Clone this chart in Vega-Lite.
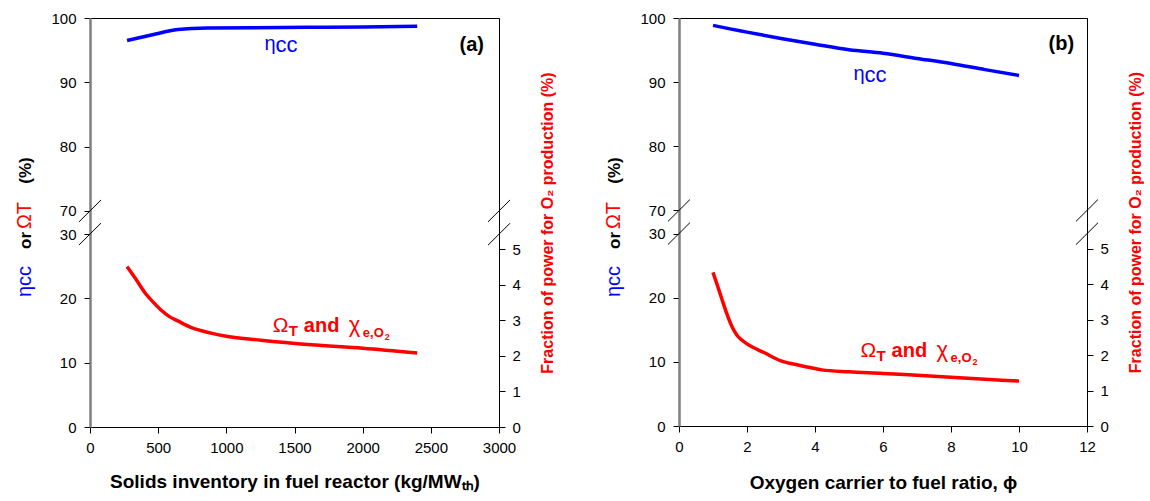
{
  "$schema": "https://vega.github.io/schema/vega-lite/v6.json",
  "padding": {"left": 13, "top": 10, "right": 0, "bottom": 0},
  "background": "white",
  "spacing": 46,
  "datasets": {
    "one": [{}],
    "a_eta": [
      {"x": 272, "y": 96.5}, {"x": 450, "y": 97.35}, {"x": 644, "y": 98.2}, {"x": 864, "y": 98.45},
      {"x": 1200, "y": 98.5}, {"x": 1600, "y": 98.55}, {"x": 2000, "y": 98.6}, {"x": 2400, "y": 98.7}
    ],
    "a_omega": [
      {"x": 272, "y": 24.95}, {"x": 330, "y": 23.2}, {"x": 399, "y": 21.0}, {"x": 460, "y": 19.5},
      {"x": 521, "y": 18.2}, {"x": 580, "y": 17.2}, {"x": 644, "y": 16.5}, {"x": 750, "y": 15.4},
      {"x": 888, "y": 14.6}, {"x": 1000, "y": 14.1}, {"x": 1255, "y": 13.5}, {"x": 1622, "y": 12.8},
      {"x": 2000, "y": 12.25}, {"x": 2400, "y": 11.5}
    ],
    "b_eta": [
      {"x": 1, "y": 98.85}, {"x": 1.5, "y": 98.3}, {"x": 2, "y": 97.8}, {"x": 3, "y": 96.8},
      {"x": 4, "y": 95.9}, {"x": 5, "y": 95.05}, {"x": 6, "y": 94.5}, {"x": 7, "y": 93.7},
      {"x": 8, "y": 92.9}, {"x": 9, "y": 91.95}, {"x": 10, "y": 91.05}
    ],
    "b_omega": [
      {"x": 1, "y": 23.95}, {"x": 1.13, "y": 21.9}, {"x": 1.26, "y": 19.8}, {"x": 1.4, "y": 17.6},
      {"x": 1.55, "y": 15.6}, {"x": 1.7, "y": 14.2}, {"x": 1.85, "y": 13.4}, {"x": 2, "y": 12.8},
      {"x": 2.5, "y": 11.45}, {"x": 3, "y": 10.15}, {"x": 3.5, "y": 9.5}, {"x": 4, "y": 8.95},
      {"x": 4.2, "y": 8.75}, {"x": 5, "y": 8.45}, {"x": 6, "y": 8.2}, {"x": 7, "y": 7.9},
      {"x": 8, "y": 7.6}, {"x": 9, "y": 7.3}, {"x": 10, "y": 7.0}
    ]
  },
  "hconcat": [
    {
      "width": 409,
      "height": 409,
      "resolve": {"scale": {"y": "independent"}, "axis": {"x": "independent", "y": "independent"}},
      "layer": [
        {
          "data": {"name": "a_eta"},
          "mark": {"type": "line", "color": "#0000ff", "strokeWidth": 3.5, "interpolate": "monotone"},
          "encoding": {
            "x": {"field": "x", "type": "quantitative", "scale": {"domain": [0, 3000]},
              "axis": {"values": [0, 500, 1000, 1500, 2000, 2500, 3000], "format": "d", "title": "Solids inventory in fuel reactor (kg/MWₜₕ)", "titleFontSize": 19, "titlePadding": 17}},
            "y": {"field": "y", "type": "quantitative", "scale": {"domain": [36.4, 100]},
              "axis": {"orient": "left", "values": [70, 80, 90, 100], "title": "(%)", "titleX": -56, "titleY": 152, "titleFontSize": 17, "titleFontWeight": "bold", "titleColor": "#000000", "domainColor": "#7f7f7f", "domainWidth": 2, "labelPadding": 8}}
          }
        },
        {
          "data": {"name": "one"},
          "mark": {"type": "text", "text": "η", "fontSize": 20, "align": "left", "baseline": "alphabetic", "color": "#0000ff", "dy": -2},
          "encoding": {
            "x": {"datum": 1280, "type": "quantitative", "scale": {"domain": [0, 3000]}, "axis": null},
            "y": {"datum": 94.76, "type": "quantitative", "scale": {"domain": [36.4, 100]}, "axis": null}
          }
        },
        {
          "data": {"name": "one"},
          "mark": {"type": "text", "text": "cc", "fontSize": 22, "align": "left", "baseline": "alphabetic", "color": "#0000ff", "dx": 11},
          "encoding": {
            "x": {"datum": 1280, "type": "quantitative", "scale": {"domain": [0, 3000]}, "axis": null},
            "y": {"datum": 94.76, "type": "quantitative", "scale": {"domain": [36.4, 100]}, "axis": null}
          }
        },
        {
          "data": {"name": "a_omega"},
          "mark": {"type": "line", "color": "#ff0000", "strokeWidth": 3.5, "interpolate": "monotone"},
          "encoding": {
            "x": {"field": "x", "type": "quantitative", "scale": {"domain": [0, 3000]}, "axis": null},
            "y": {"field": "y", "type": "quantitative", "scale": {"domain": [0, 63.6]},
              "axis": {"orient": "left", "values": [0, 10, 20, 30], "title": "ηcc", "titleX": -56, "titleY": 263, "titleFontSize": 20, "titleFontWeight": "normal", "titleColor": "#0000ff", "domainColor": "#7f7f7f", "domainWidth": 2, "labelPadding": 8}}
          }
        },
        {
          "data": {"name": "one"},
          "mark": {"type": "text", "text": "Ω", "fontSize": 21, "align": "left", "baseline": "alphabetic", "color": "#ff0000"},
          "encoding": {
            "x": {"datum": 1341, "type": "quantitative", "scale": {"domain": [0, 3000]}, "axis": null},
            "y": {"datum": 14.73, "type": "quantitative", "scale": {"domain": [0, 63.6]}, "axis": null}
          }
        },
        {
          "data": {"name": "one"},
          "mark": {"type": "text", "text": "T", "fontSize": 15, "fontWeight": "bold", "align": "left", "baseline": "alphabetic", "color": "#ff0000", "dx": 16, "dy": 4},
          "encoding": {
            "x": {"datum": 1341, "type": "quantitative", "scale": {"domain": [0, 3000]}, "axis": null},
            "y": {"datum": 14.73, "type": "quantitative", "scale": {"domain": [0, 63.6]}, "axis": null}
          }
        },
        {
          "data": {"name": "one"},
          "mark": {"type": "text", "text": "and", "fontSize": 20, "fontWeight": "bold", "align": "left", "baseline": "alphabetic", "color": "#ff0000", "dx": 31},
          "encoding": {
            "x": {"datum": 1341, "type": "quantitative", "scale": {"domain": [0, 3000]}, "axis": null},
            "y": {"datum": 14.73, "type": "quantitative", "scale": {"domain": [0, 63.6]}, "axis": null}
          }
        },
        {
          "data": {"name": "one"},
          "mark": {"type": "text", "text": "χ", "fontSize": 22, "align": "left", "baseline": "alphabetic", "color": "#ff0000", "dx": 76},
          "encoding": {
            "x": {"datum": 1341, "type": "quantitative", "scale": {"domain": [0, 3000]}, "axis": null},
            "y": {"datum": 14.73, "type": "quantitative", "scale": {"domain": [0, 63.6]}, "axis": null}
          }
        },
        {
          "data": {"name": "one"},
          "mark": {"type": "text", "text": "e,O", "fontSize": 13, "fontWeight": "bold", "align": "left", "baseline": "alphabetic", "color": "#ff0000", "dx": 90, "dy": 5},
          "encoding": {
            "x": {"datum": 1341, "type": "quantitative", "scale": {"domain": [0, 3000]}, "axis": null},
            "y": {"datum": 14.73, "type": "quantitative", "scale": {"domain": [0, 63.6]}, "axis": null}
          }
        },
        {
          "data": {"name": "one"},
          "mark": {"type": "text", "text": "2", "fontSize": 9, "fontWeight": "bold", "align": "left", "baseline": "alphabetic", "color": "#ff0000", "dx": 112, "dy": 8},
          "encoding": {
            "x": {"datum": 1341, "type": "quantitative", "scale": {"domain": [0, 3000]}, "axis": null},
            "y": {"datum": 14.73, "type": "quantitative", "scale": {"domain": [0, 63.6]}, "axis": null}
          }
        },
        {
          "data": {"name": "one"},
          "mark": {"type": "rule", "color": "#000000", "strokeWidth": 1},
          "encoding": {
            "x": {"datum": -81, "type": "quantitative", "scale": {"domain": [0, 3000]}, "axis": null},
            "x2": {"datum": 81},
            "y": {"datum": 68.29, "type": "quantitative", "scale": {"domain": [36.4, 100]},
              "axis": {"orient": "left", "labels": false, "ticks": false, "domain": false, "title": "or", "titleX": -56, "titleY": 222, "titleFontSize": 17, "titleFontWeight": "bold", "titleColor": "#000000"}},
            "y2": {"datum": 71.71}
          }
        },
        {
          "data": {"name": "one"},
          "mark": {"type": "rule", "color": "#000000", "strokeWidth": 1},
          "encoding": {
            "x": {"datum": 2919, "type": "quantitative", "scale": {"domain": [0, 3000]}, "axis": null},
            "x2": {"datum": 3081},
            "y": {"datum": 68.29, "type": "quantitative", "scale": {"domain": [36.4, 100]}, "axis": null},
            "y2": {"datum": 71.71}
          }
        },
        {
          "data": {"name": "one"},
          "mark": {"type": "text", "text": "(a)", "fontSize": 20, "fontWeight": "bold", "align": "right", "baseline": "alphabetic", "color": "#000000"},
          "encoding": {
            "x": {"datum": 2890, "type": "quantitative", "scale": {"domain": [0, 3000]}, "axis": null},
            "y": {"datum": 94.9, "type": "quantitative", "scale": {"domain": [36.4, 100]}, "axis": null}
          }
        },
        {
          "data": {"name": "one"},
          "mark": {"type": "rule", "color": "#000000", "strokeWidth": 1},
          "encoding": {
            "x": {"datum": -81, "type": "quantitative", "scale": {"domain": [0, 3000]}, "axis": null},
            "x2": {"datum": 81},
            "y": {"datum": 28.29, "type": "quantitative", "scale": {"domain": [0, 63.6]},
              "axis": {"orient": "left", "labels": false, "ticks": false, "domain": false, "title": "ΩT", "titleX": -56, "titleY": 197, "titleFontSize": 20, "titleFontWeight": "normal", "titleColor": "#ff0000"}},
            "y2": {"datum": 31.71}
          }
        },
        {
          "data": {"name": "one"},
          "mark": {"type": "rule", "color": "#000000", "strokeWidth": 1},
          "encoding": {
            "x": {"datum": 2919, "type": "quantitative", "scale": {"domain": [0, 3000]}, "axis": null},
            "x2": {"datum": 3081},
            "y": {"datum": 5.12, "type": "quantitative", "scale": {"domain": [0, 11.52]},
              "axis": {"orient": "right", "values": [0, 1, 2, 3, 4, 5], "title": "Fraction of power for O₂ production (%)", "titleColor": "#ff0000", "titleFontSize": 16, "titleFontWeight": "bold", "titleAngle": -90, "titleBaseline": "top", "titleX": 40, "titleY": 204.5, "titleAlign": "center"}},
            "y2": {"datum": 5.74}
          }
        }
      ]
    },
    {
      "width": 408,
      "height": 408,
      "resolve": {"scale": {"y": "independent"}, "axis": {"x": "independent", "y": "independent"}},
      "layer": [
        {
          "data": {"name": "b_eta"},
          "mark": {"type": "line", "color": "#0000ff", "strokeWidth": 3.5, "interpolate": "monotone"},
          "encoding": {
            "x": {"field": "x", "type": "quantitative", "scale": {"domain": [0, 12]},
              "axis": {"values": [0, 2, 4, 6, 8, 10, 12], "format": "d", "title": "Oxygen carrier to fuel ratio, ϕ", "titleFontSize": 19, "titlePadding": 19}},
            "y": {"field": "y", "type": "quantitative", "scale": {"domain": [36.4, 100]},
              "axis": {"orient": "left", "values": [70, 80, 90, 100], "title": "(%)", "titleX": -56, "titleY": 152, "titleFontSize": 17, "titleFontWeight": "bold", "titleColor": "#000000", "domainColor": "#7f7f7f", "domainWidth": 2, "labelPadding": 8}}
          }
        },
        {
          "data": {"name": "one"},
          "mark": {"type": "text", "text": "η", "fontSize": 20, "align": "left", "baseline": "alphabetic", "color": "#0000ff", "dy": -2},
          "encoding": {
            "x": {"datum": 5.13, "type": "quantitative", "scale": {"domain": [0, 12]}, "axis": null},
            "y": {"datum": 90.0, "type": "quantitative", "scale": {"domain": [36.4, 100]}, "axis": null}
          }
        },
        {
          "data": {"name": "one"},
          "mark": {"type": "text", "text": "cc", "fontSize": 22, "align": "left", "baseline": "alphabetic", "color": "#0000ff", "dx": 11},
          "encoding": {
            "x": {"datum": 5.13, "type": "quantitative", "scale": {"domain": [0, 12]}, "axis": null},
            "y": {"datum": 90.0, "type": "quantitative", "scale": {"domain": [36.4, 100]}, "axis": null}
          }
        },
        {
          "data": {"name": "b_omega"},
          "mark": {"type": "line", "color": "#ff0000", "strokeWidth": 3.5, "interpolate": "monotone"},
          "encoding": {
            "x": {"field": "x", "type": "quantitative", "scale": {"domain": [0, 12]}, "axis": null},
            "y": {"field": "y", "type": "quantitative", "scale": {"domain": [0, 63.6]},
              "axis": {"orient": "left", "values": [0, 10, 20, 30], "title": "ηcc", "titleX": -56, "titleY": 263, "titleFontSize": 20, "titleFontWeight": "normal", "titleColor": "#0000ff", "domainColor": "#7f7f7f", "domainWidth": 2, "labelPadding": 8}}
          }
        },
        {
          "data": {"name": "one"},
          "mark": {"type": "text", "text": "Ω", "fontSize": 21, "align": "left", "baseline": "alphabetic", "color": "#ff0000"},
          "encoding": {
            "x": {"datum": 5.34, "type": "quantitative", "scale": {"domain": [0, 12]}, "axis": null},
            "y": {"datum": 10.76, "type": "quantitative", "scale": {"domain": [0, 63.6]}, "axis": null}
          }
        },
        {
          "data": {"name": "one"},
          "mark": {"type": "text", "text": "T", "fontSize": 15, "fontWeight": "bold", "align": "left", "baseline": "alphabetic", "color": "#ff0000", "dx": 16, "dy": 4},
          "encoding": {
            "x": {"datum": 5.34, "type": "quantitative", "scale": {"domain": [0, 12]}, "axis": null},
            "y": {"datum": 10.76, "type": "quantitative", "scale": {"domain": [0, 63.6]}, "axis": null}
          }
        },
        {
          "data": {"name": "one"},
          "mark": {"type": "text", "text": "and", "fontSize": 20, "fontWeight": "bold", "align": "left", "baseline": "alphabetic", "color": "#ff0000", "dx": 31},
          "encoding": {
            "x": {"datum": 5.34, "type": "quantitative", "scale": {"domain": [0, 12]}, "axis": null},
            "y": {"datum": 10.76, "type": "quantitative", "scale": {"domain": [0, 63.6]}, "axis": null}
          }
        },
        {
          "data": {"name": "one"},
          "mark": {"type": "text", "text": "χ", "fontSize": 22, "align": "left", "baseline": "alphabetic", "color": "#ff0000", "dx": 76},
          "encoding": {
            "x": {"datum": 5.34, "type": "quantitative", "scale": {"domain": [0, 12]}, "axis": null},
            "y": {"datum": 10.76, "type": "quantitative", "scale": {"domain": [0, 63.6]}, "axis": null}
          }
        },
        {
          "data": {"name": "one"},
          "mark": {"type": "text", "text": "e,O", "fontSize": 13, "fontWeight": "bold", "align": "left", "baseline": "alphabetic", "color": "#ff0000", "dx": 90, "dy": 5},
          "encoding": {
            "x": {"datum": 5.34, "type": "quantitative", "scale": {"domain": [0, 12]}, "axis": null},
            "y": {"datum": 10.76, "type": "quantitative", "scale": {"domain": [0, 63.6]}, "axis": null}
          }
        },
        {
          "data": {"name": "one"},
          "mark": {"type": "text", "text": "2", "fontSize": 9, "fontWeight": "bold", "align": "left", "baseline": "alphabetic", "color": "#ff0000", "dx": 112, "dy": 8},
          "encoding": {
            "x": {"datum": 5.34, "type": "quantitative", "scale": {"domain": [0, 12]}, "axis": null},
            "y": {"datum": 10.76, "type": "quantitative", "scale": {"domain": [0, 63.6]}, "axis": null}
          }
        },
        {
          "data": {"name": "one"},
          "mark": {"type": "rule", "color": "#000000", "strokeWidth": 1},
          "encoding": {
            "x": {"datum": -0.324, "type": "quantitative", "scale": {"domain": [0, 12]}, "axis": null},
            "x2": {"datum": 0.324},
            "y": {"datum": 68.29, "type": "quantitative", "scale": {"domain": [36.4, 100]},
              "axis": {"orient": "left", "labels": false, "ticks": false, "domain": false, "title": "or", "titleX": -56, "titleY": 222, "titleFontSize": 17, "titleFontWeight": "bold", "titleColor": "#000000"}},
            "y2": {"datum": 71.71}
          }
        },
        {
          "data": {"name": "one"},
          "mark": {"type": "rule", "color": "#000000", "strokeWidth": 1},
          "encoding": {
            "x": {"datum": 11.676, "type": "quantitative", "scale": {"domain": [0, 12]}, "axis": null},
            "x2": {"datum": 12.324},
            "y": {"datum": 68.29, "type": "quantitative", "scale": {"domain": [36.4, 100]}, "axis": null},
            "y2": {"datum": 71.71}
          }
        },
        {
          "data": {"name": "one"},
          "mark": {"type": "text", "text": "(b)", "fontSize": 20, "fontWeight": "bold", "align": "right", "baseline": "alphabetic", "color": "#000000"},
          "encoding": {
            "x": {"datum": 11.62, "type": "quantitative", "scale": {"domain": [0, 12]}, "axis": null},
            "y": {"datum": 94.98, "type": "quantitative", "scale": {"domain": [36.4, 100]}, "axis": null}
          }
        },
        {
          "data": {"name": "one"},
          "mark": {"type": "rule", "color": "#000000", "strokeWidth": 1},
          "encoding": {
            "x": {"datum": -0.324, "type": "quantitative", "scale": {"domain": [0, 12]}, "axis": null},
            "x2": {"datum": 0.324},
            "y": {"datum": 28.29, "type": "quantitative", "scale": {"domain": [0, 63.6]},
              "axis": {"orient": "left", "labels": false, "ticks": false, "domain": false, "title": "ΩT", "titleX": -56, "titleY": 197, "titleFontSize": 20, "titleFontWeight": "normal", "titleColor": "#ff0000"}},
            "y2": {"datum": 31.71}
          }
        },
        {
          "data": {"name": "one"},
          "mark": {"type": "rule", "color": "#000000", "strokeWidth": 1},
          "encoding": {
            "x": {"datum": 11.676, "type": "quantitative", "scale": {"domain": [0, 12]}, "axis": null},
            "x2": {"datum": 12.324},
            "y": {"datum": 5.12, "type": "quantitative", "scale": {"domain": [0, 11.52]},
              "axis": {"orient": "right", "values": [0, 1, 2, 3, 4, 5], "title": "Fraction of power for O₂ production (%)", "titleColor": "#ff0000", "titleFontSize": 16, "titleFontWeight": "bold", "titleAngle": -90, "titleBaseline": "top", "titleX": 40, "titleY": 204, "titleAlign": "center"}},
            "y2": {"datum": 5.74}
          }
        }
      ]
    }
  ],
  "config": {
    "font": "Liberation Sans",
    "view": {"stroke": "#000000", "strokeWidth": 1},
    "text": {"font": "Liberation Sans"},
    "axis": {
      "grid": false,
      "labelFont": "Liberation Sans",
      "labelFontSize": 15,
      "labelColor": "#000000",
      "tickColor": "#000000",
      "tickSize": 6,
      "labelPadding": 7,
      "domainColor": "#000000",
      "titleFont": "Liberation Sans",
      "titleFontSize": 16,
      "titleFontWeight": "bold",
      "titleColor": "#000000",
      "titlePadding": 19,
      "labelFlush": false,
      "labelOverlap": false
    }
  }
}
